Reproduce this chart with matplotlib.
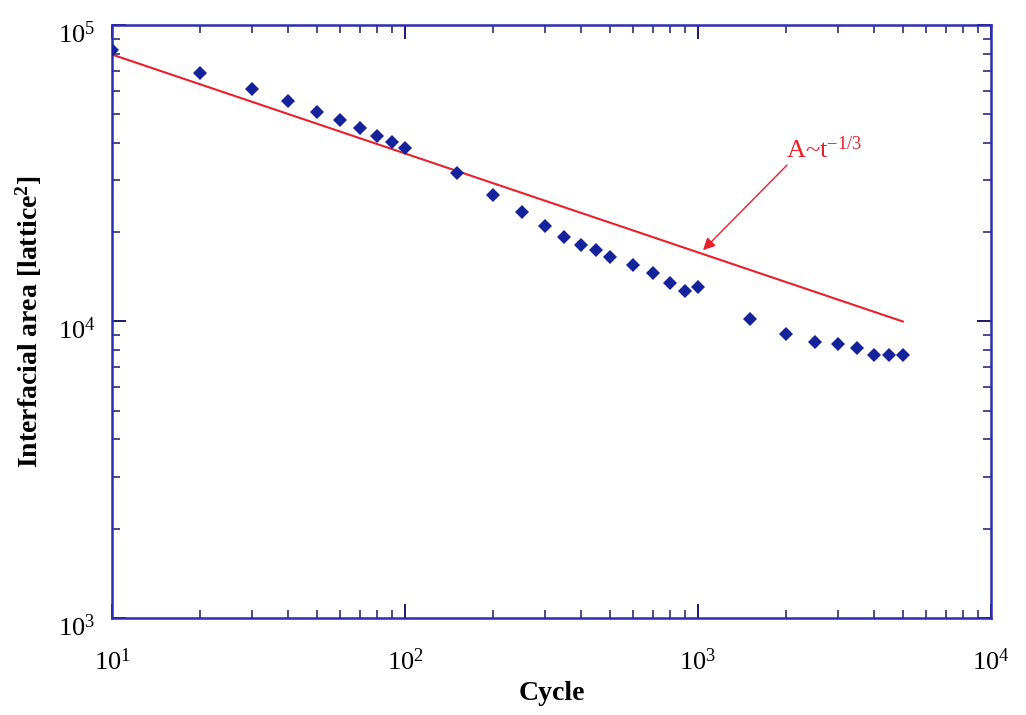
import matplotlib
matplotlib.use("Agg")
import matplotlib.pyplot as plt
from matplotlib.ticker import LogLocator, LogFormatterMathtext, NullFormatter
from matplotlib.transforms import ScaledTranslation

plt.rcParams["font.family"] = ["Liberation Serif", "DejaVu Serif"]
plt.rcParams["mathtext.fontset"] = "custom"
plt.rcParams["mathtext.rm"] = "Liberation Serif"
plt.rcParams["mathtext.it"] = "Liberation Serif:italic"
plt.rcParams["mathtext.bf"] = "Liberation Serif:bold"

# Simulation data: interfacial area vs. Monte Carlo cycle
cycles = [10, 20, 30, 40, 50, 60, 70, 80, 90, 100,
          150, 200, 250, 300, 350, 400, 450, 500, 600, 700, 800, 900, 1000,
          1500, 2000, 2500, 3000, 3500, 4000, 4500, 5000]
area = [82400, 68900, 60800, 55400, 50900, 47900, 45000, 42300, 40300, 38500,
        31700, 26700, 23400, 21000, 19300, 18100, 17400, 16500, 15500, 14600, 13500, 12700, 13100,
        10200, 9080, 8530, 8400, 8140, 7710, 7710, 7710]

# Power-law guide A ~ t^(-1/3), given by its end points
guide_cycles = [10, 5000]
guide_area = [79500, 10000]

blue_axis = "#2c2cb4"
tick_col = "#1a1a70"
marker_col = "#14239c"
red = "#e8202a"

fig = plt.figure(figsize=(10.26, 7.15), dpi=100)
ax = fig.add_axes([0.1092, 0.1357, 0.8567, 0.8293])

ax.plot(guide_cycles, guide_area, color=red, lw=1.5, zorder=2)
ax.plot(cycles, area, linestyle="none", marker="D", markersize=7.2,
        color=marker_col, markeredgewidth=0, zorder=3)

ax.set_xscale("log")
ax.set_yscale("log")
ax.set_xlim(10, 1e4)
ax.set_ylim(1e3, 1e5)

for s in ax.spines.values():
    s.set_color(blue_axis)
    s.set_linewidth(1.8)

ax.xaxis.set_major_locator(LogLocator(base=10, numticks=10))
ax.xaxis.set_minor_locator(LogLocator(base=10, subs=range(2, 10), numticks=20))
ax.yaxis.set_major_locator(LogLocator(base=10, numticks=10))
ax.yaxis.set_minor_locator(LogLocator(base=10, subs=range(2, 10), numticks=20))
ax.xaxis.set_major_formatter(LogFormatterMathtext())
ax.yaxis.set_major_formatter(LogFormatterMathtext())
ax.xaxis.set_minor_formatter(NullFormatter())
ax.yaxis.set_minor_formatter(NullFormatter())

ax.tick_params(which="both", direction="in", top=True, right=True,
               color=tick_col, labelsize=19, labelcolor="black")
ax.tick_params(which="major", length=10, width=1.4)
ax.tick_params(which="minor", length=6, width=1.1)
ax.tick_params(axis="x", which="major", pad=22)
ax.tick_params(axis="y", which="major", pad=12)

# y tick labels sit a little below their ticks
shift = ScaledTranslation(0, -5 / 72, fig.dpi_scale_trans)
for lab in ax.get_yticklabels():
    lab.set_transform(lab.get_transform() + shift)

ax.set_xlabel("Cycle", fontsize=20, fontweight="bold", labelpad=4)
ax.set_ylabel("Interfacial area [lattice$^{\\mathbf{2}}$]", fontsize=20,
              fontweight="bold", labelpad=10)

ax.annotate("", xy=(1040, 17400), xytext=(2013, 33700),
            arrowprops=dict(arrowstyle="-|>", color=red, lw=1.0,
                            mutation_scale=18, shrinkA=0, shrinkB=0))
ax.text(1990, 34300, "A~t$^{\\mathrm{-1/3}}$", color=red, fontsize=19,
        ha="left", va="bottom")

fig.savefig("out.png", dpi=100, facecolor="white")
